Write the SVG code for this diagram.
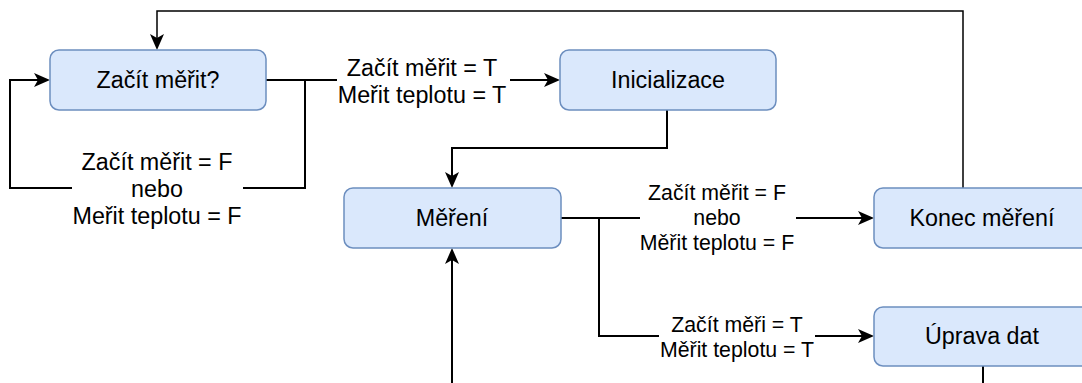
<svg xmlns="http://www.w3.org/2000/svg" width="1082" height="383" viewBox="0 0 1082 383">
  <style>
    .node rect { fill: #dae8fc; stroke: #6c8ebf; stroke-width: 1.5; }
    .node text { font-family: "Liberation Sans", Arial, sans-serif; font-size: 23.3px; fill: #000; text-anchor: middle; }
    .edge { fill: none; stroke: #000; stroke-width: 2; }
    .thin { stroke-width: 1.5; }
    .lbl { font-family: "Liberation Sans", Arial, sans-serif; fill: #000; text-anchor: middle; }
    .big { font-size: 23.3px; }
    .small { font-size: 21.3px; }
    .bg { fill: #fff; }
  </style>
  <defs>
    <marker id="arrow" viewBox="0 0 16 14" refX="12" refY="7" markerWidth="16" markerHeight="14" markerUnits="userSpaceOnUse" orient="auto">
      <path d="M16,7 L0,0 L4,7 L0,14 Z" fill="#000"/>
    </marker>
  </defs>

  <g id="connectors">
    <!-- Konec měření back to Začít měřit? -->
    <path class="edge thin" d="M963,188 V11 H157 V46" marker-end="url(#arrow)"/>
    <!-- self loop on Začít měřit? -->
    <path class="edge" d="M266,80 H305 V188 H10 V80 H46" marker-end="url(#arrow)"/>
    <!-- Začít měřit? to Inicializace -->
    <path class="edge" d="M266,80 H556" marker-end="url(#arrow)"/>
    <!-- Inicializace to Měření -->
    <path class="edge" d="M667,110 V148 H452 V184" marker-end="url(#arrow)"/>
    <!-- Měření to Konec měření -->
    <path class="edge" d="M561,218 H870" marker-end="url(#arrow)"/>
    <!-- Měření to Úprava dat -->
    <path class="edge" d="M599,218 V336 H870" marker-end="url(#arrow)"/>
    <!-- return into Měření from below -->
    <path class="edge" d="M452,383 V252" marker-end="url(#arrow)"/>
    <!-- Úprava dat downwards -->
    <path class="edge" d="M983,366 V383"/>

    <!-- edge labels -->
    <rect class="bg" x="72" y="150" width="171" height="80"/>
    <text class="lbl big" x="157" y="170">Začít měřit = F</text>
    <text class="lbl big" x="157" y="197">nebo</text>
    <text class="lbl big" x="157" y="224">Meřit teplotu = F</text>

    <rect class="bg" x="337" y="56" width="173" height="52"/>
    <text class="lbl big" x="422" y="76">Začít měřit = T</text>
    <text class="lbl big" x="422" y="103">Meřit teplotu = T</text>

    <rect class="bg" x="640" y="180" width="156" height="76"/>
    <text class="lbl small" x="717" y="200">Začít měřit = F</text>
    <text class="lbl small" x="717" y="225">nebo</text>
    <text class="lbl small" x="717" y="250">Měřit teplotu = F</text>

    <rect class="bg" x="659" y="313" width="156" height="50"/>
    <text class="lbl small" x="737" y="332">Začít měři = T</text>
    <text class="lbl small" x="737" y="357">Měřit teplotu = T</text>
  </g>

  <g id="zacit-merit" class="node">
    <rect x="50" y="50" width="216" height="60" rx="9"/>
    <text x="158" y="88">Začít měřit?</text>
  </g>
  <g id="inicializace" class="node">
    <rect x="560" y="50" width="216" height="60" rx="9"/>
    <text x="668" y="88">Inicializace</text>
  </g>
  <g id="mereni" class="node">
    <rect x="344" y="188" width="217" height="60" rx="9"/>
    <text x="452" y="226">Měření</text>
  </g>
  <g id="konec-mereni" class="node">
    <rect x="874" y="188" width="217" height="60" rx="9"/>
    <text x="982" y="226">Konec měření</text>
  </g>
  <g id="uprava-dat" class="node">
    <rect x="874" y="307" width="217" height="59" rx="9"/>
    <text x="982" y="344">Úprava dat</text>
  </g>
</svg>
